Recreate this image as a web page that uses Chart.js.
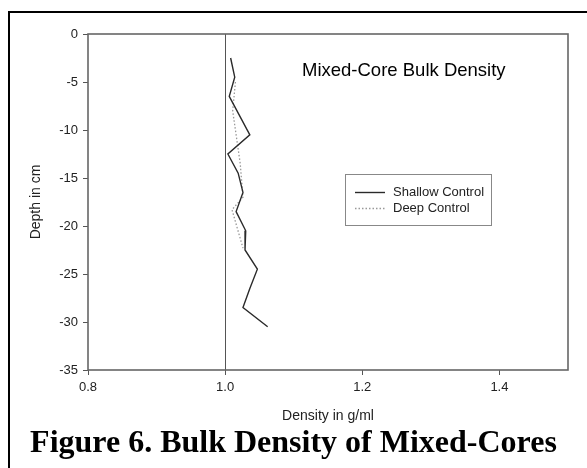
<!DOCTYPE html>
<html><head><meta charset="utf-8">
<script src="https://cdn.jsdelivr.net/npm/chart.js@4.4.0/dist/chart.umd.min.js"></script>
<style>
html,body{margin:0;padding:0;background:#fff;width:587px;height:468px;overflow:hidden;}
#frame{position:absolute;left:8px;top:11px;width:640px;height:540px;border:2px solid #000;box-sizing:border-box;}
#wrap{position:absolute;left:0;top:0;width:587px;height:468px;}
#caption{position:absolute;left:0;width:587px;top:424px;text-align:center;font-family:"Liberation Serif","Times New Roman",serif;font-weight:bold;font-size:32px;line-height:34px;color:#000;white-space:nowrap;}
</style></head>
<body>
<div id="frame"></div>
<div id="wrap"><canvas id="c" width="587" height="468"></canvas></div>
<div id="caption">Figure 6. Bulk Density of Mixed-Cores</div>
<script>
const chartTitle = "Mixed-Core Bulk Density";
const xTitle = "Density in g/ml";
const yTitle = "Depth in cm";
const seriesNames = ["Shallow Control", "Deep Control"];
const xTicks = [0.8, 1.0, 1.2, 1.4];
const yTicks = [0, -5, -10, -15, -20, -25, -30, -35];
const depthShallow = [-2.5, -4.5, -6.5, -8.5, -10.5, -12.5, -14.5, -16.5, -18.5, -20.5, -22.5, -24.5, -26.5, -28.5, -30.5];
const densityShallow = [1.008, 1.014, 1.006, 1.021, 1.036, 1.004, 1.019, 1.026, 1.016, 1.030, 1.029, 1.047, 1.036, 1.026, 1.062];
const depthDeep = [-5.0, -8.0, -13.5, -17.0, -18.3, -22.3];
const densityDeep = [1.015, 1.011, 1.022, 1.026, 1.010, 1.026];
const refLineX = 1.0;

function pts(xs, ys){ return xs.map((x,i)=>({x:x, y:ys[i]})); }
const FONT = '"Liberation Sans", Arial, sans-serif';

const framePlugin = {
  id:'framePlugin',
  afterDraw(chart){
    const {ctx, chartArea:a, scales} = chart;
    ctx.save();
    const xp = scales.x.getPixelForValue(refLineX);
    ctx.strokeStyle = '#555'; ctx.lineWidth = 1;
    ctx.beginPath(); ctx.moveTo(Math.round(xp)+0.5, a.top); ctx.lineTo(Math.round(xp)+0.5, a.bottom); ctx.stroke();
    ctx.strokeStyle = '#666'; ctx.lineWidth = 1.6;
    ctx.strokeRect(a.left, a.top, a.right-a.left, a.bottom-a.top);
    ctx.fillStyle = '#000';
    ctx.font = '18.5px ' + FONT;
    ctx.textBaseline = 'middle'; ctx.textAlign = 'left';
    ctx.fillText(chartTitle, 302, 71);
    const lx = 345, ly = 174, lw = 146, lh = 51;
    ctx.strokeStyle = '#888'; ctx.lineWidth = 1;
    ctx.strokeRect(lx+0.5, ly+0.5, lw, lh);
    ctx.font = '13px ' + FONT;
    chart.data.datasets.forEach((ds, i) => {
      const yy = 192 + i*16;
      ctx.strokeStyle = ds.borderColor; ctx.lineWidth = ds.borderWidth;
      ctx.setLineDash(ds.borderDash || []);
      ctx.beginPath(); ctx.moveTo(lx+10, yy+0.5); ctx.lineTo(lx+40, yy+0.5); ctx.stroke();
      ctx.setLineDash([]);
      ctx.fillStyle = '#222';
      ctx.fillText(ds.label, lx+48, yy);
    });
    ctx.restore();
  }
};

new Chart(document.getElementById('c'), {
  type:'scatter',
  data:{ datasets:[
    {label:seriesNames[0], data:pts(densityShallow, depthShallow), showLine:true, borderColor:'#2a2a2a', borderWidth:1.4, pointRadius:0, tension:0, fill:false},
    {label:seriesNames[1], data:pts(densityDeep, depthDeep), showLine:true, borderColor:'#999', borderWidth:1.3, borderDash:[1.5,2], pointRadius:0, tension:0, fill:false}
  ]},
  options:{
    responsive:false, animation:false, devicePixelRatio:1,
    layout:{padding:{left:24, top:34, right:19, bottom:39}},
    plugins:{legend:{display:false}, tooltip:{enabled:false}, title:{display:false}},
    scales:{
      x:{type:'linear', position:'bottom', min:0.8, max:1.5,
        afterBuildTicks(s){ s.ticks = xTicks.map(v=>({value:v})); },
        afterFit(s){ s.height = 59; },
        ticks:{color:'#222', padding:5, font:{family:FONT, size:13}, callback:v=>v.toFixed(1)},
        grid:{display:true, drawOnChartArea:false, drawTicks:true, tickLength:5, color:'#555'},
        border:{display:false},
        title:{display:true, text:xTitle, color:'#222', font:{family:FONT, size:14}}
      },
      y:{type:'linear', position:'left', min:-35, max:0,
        afterBuildTicks(s){ s.ticks = yTicks.map(v=>({value:v})); },
        afterFit(s){ s.width = 64; },
        ticks:{color:'#222', padding:5, font:{family:FONT, size:13}, callback:v=>String(v)},
        grid:{display:true, drawOnChartArea:false, drawTicks:true, tickLength:5, color:'#555'},
        border:{display:false},
        title:{display:true, text:yTitle, color:'#222', font:{family:FONT, size:14}}
      }
    }
  },
  plugins:[framePlugin]
});
</script>
</body></html>
